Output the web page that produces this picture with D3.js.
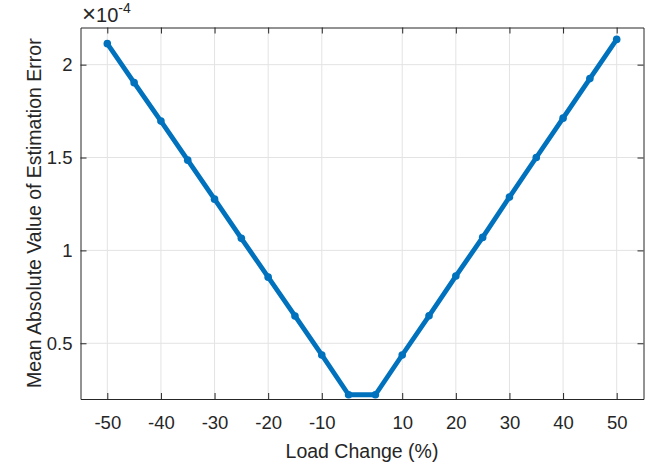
<!DOCTYPE html>
<html>
<head>
<meta charset="utf-8">
<script src="https://cdn.jsdelivr.net/npm/d3@7"></script>
<style>
  body { margin: 0; background: #fff; }
  text { font-family: "Liberation Sans", Arial, sans-serif; fill: #262626; }
</style>
</head>
<body>
<svg id="chart"></svg>
<script>
const width = 660;
const height = 468;
const margin = { left: 80.5, right: 16.5, top: 27.5, bottom: 69 };

// load change steps (%) and the mean absolute estimation error (x1e-4)
const loadChange = [-50, -45, -40, -35, -30, -25, -20, -15, -10, -5,
                    5, 10, 15, 20, 25, 30, 35, 40, 45, 50];
const meanAbsError = [2.113, 1.903, 1.696, 1.486, 1.276, 1.065, 0.856, 0.647, 0.437, 0.223,
                      0.223, 0.437, 0.648, 0.862, 1.070, 1.287, 1.500, 1.712, 1.925, 2.136];
const xTickLabels = [-50, -40, -30, -20, -10, 10, 20, 30, 40, 50];
const yTicks = [0.5, 1, 1.5, 2];

const visWidth = width - margin.left - margin.right;
const visHeight = height - margin.top - margin.bottom;

const svg = d3.select('svg#chart').attr('width', width).attr('height', height);
const g = svg.append('g').attr('transform', 'translate(' + margin.left + ',' + margin.top + ')');

// points are plotted against their index (1..20), like the original figure
const xScale = d3.scaleLinear().domain([0, 21]).range([0, visWidth]);
const yScale = d3.scaleLinear().domain([0.2, 2.2]).range([visHeight, 0]);

const xTickPos = xTickLabels.map(v => loadChange.indexOf(v) + 1);

// grid
g.append('g').selectAll('line').data(xTickPos).enter().append('line')
  .attr('x1', d => xScale(d)).attr('x2', d => xScale(d))
  .attr('y1', 0).attr('y2', visHeight)
  .attr('stroke', '#e3e3e3').attr('stroke-width', 1);
g.append('g').selectAll('line').data(yTicks).enter().append('line')
  .attr('y1', d => yScale(d)).attr('y2', d => yScale(d))
  .attr('x1', 0).attr('x2', visWidth)
  .attr('stroke', '#e3e3e3').attr('stroke-width', 1);

// axes (ticks inward, box on)
const tickLen = 6;
const fmtX = (d) => xTickLabels[xTickPos.indexOf(d)];

const xAxis = g.append('g').attr('transform', 'translate(0,' + visHeight + ')')
  .call(d3.axisBottom(xScale).tickValues(xTickPos).tickFormat(fmtX).tickSizeInner(-tickLen).tickSizeOuter(0).tickPadding(17));
const xTop = g.append('g')
  .call(d3.axisTop(xScale).tickValues(xTickPos).tickFormat('').tickSizeInner(-tickLen).tickSizeOuter(0));
const yAxis = g.append('g')
  .call(d3.axisLeft(yScale).tickValues(yTicks).tickFormat(d3.format('')).tickSizeInner(-tickLen).tickSizeOuter(0).tickPadding(8));
const yRight = g.append('g').attr('transform', 'translate(' + visWidth + ',0)')
  .call(d3.axisRight(yScale).tickValues(yTicks).tickFormat('').tickSizeInner(-tickLen).tickSizeOuter(0));

[xAxis, xTop, yAxis, yRight].forEach(a => {
  a.select('.domain').attr('stroke', '#262626').attr('stroke-width', 1);
  a.selectAll('.tick line').attr('stroke', '#262626').attr('stroke-width', 1);
  a.selectAll('text').style('font-size', '18.5px').attr('fill', '#262626')
    .style('font-family', '"Liberation Sans", Arial, sans-serif');
});

// line and markers
const line = d3.line()
  .x((d, i) => xScale(i + 1))
  .y(d => yScale(d));

g.append('path').datum(meanAbsError)
  .attr('d', line)
  .attr('fill', 'none')
  .attr('stroke', '#0072BD')
  .attr('stroke-width', 4.8)
  .attr('stroke-linejoin', 'round');

g.append('g').selectAll('circle').data(meanAbsError).enter().append('circle')
  .attr('cx', (d, i) => xScale(i + 1))
  .attr('cy', d => yScale(d))
  .attr('r', 3.8)
  .attr('fill', '#0072BD');

// exponent label
const expo = svg.append('text')
  .attr('x', 82).attr('y', 22)
  .style('font-size', '20px');
expo.append('tspan').style('font-size', '24px').style('font-weight', 300).text('\u00d7');
expo.append('tspan').text('10');
expo.append('tspan').attr('dy', -9).style('font-size', '14px').text('-4');

// axis labels
svg.append('text')
  .attr('x', margin.left + visWidth / 2).attr('y', 458)
  .attr('text-anchor', 'middle')
  .style('font-size', '19.5px')
  .text('Load Change (%)');

svg.append('text')
  .attr('transform', 'translate(41,' + (margin.top + visHeight / 2) + ') rotate(-90)')
  .attr('text-anchor', 'middle')
  .style('font-size', '19.5px')
  .text('Mean Absolute Value of Estimation Error');
</script>
</body>
</html>
